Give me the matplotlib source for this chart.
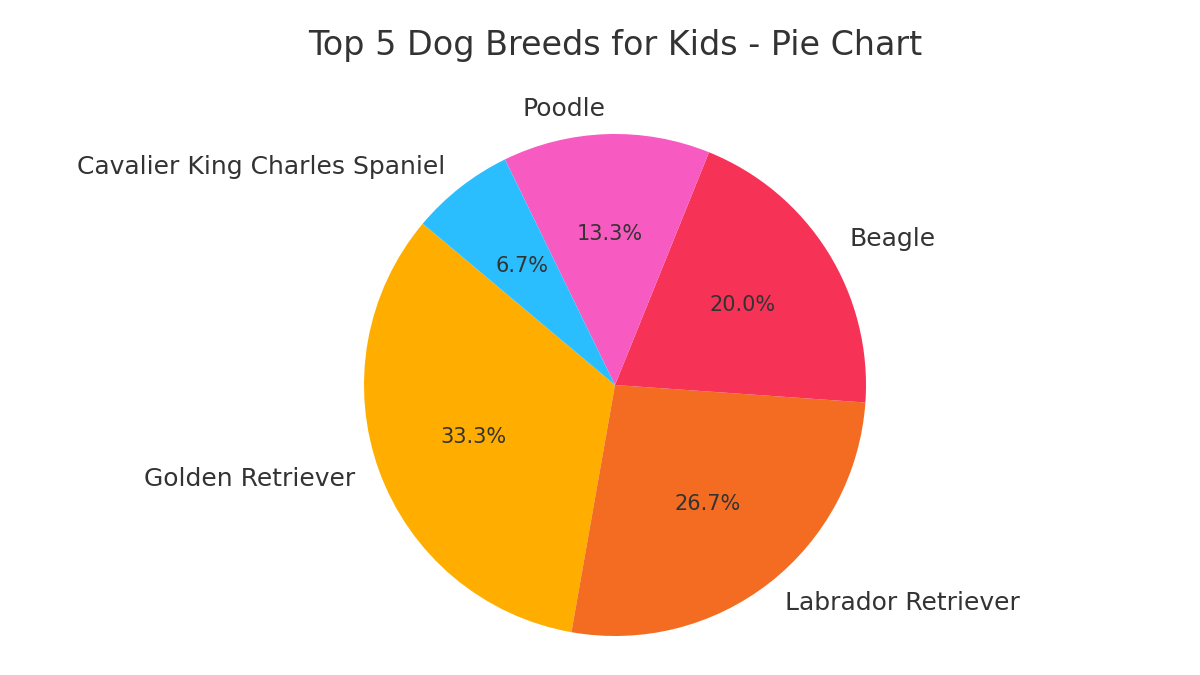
import matplotlib
matplotlib.use("Agg")
import matplotlib.pyplot as plt

breeds = ["Golden Retriever", "Labrador Retriever", "Beagle", "Poodle", "Cavalier King Charles Spaniel"]
votes = [5, 4, 3, 2, 1]
colors = ["#FFAE00", "#F36C21", "#F63257", "#F75AC0", "#2BBEFF"]

fig = plt.figure(figsize=(12, 6.75), dpi=100)
r = 251
ax = fig.add_axes([(615 - r) / 1200, (675 - 385 - r) / 675, 2 * r / 1200, 2 * r / 675])
wedges, texts, autotexts = ax.pie(votes, labels=breeds, colors=colors, startangle=140,
                                  autopct="%1.1f%%", labeldistance=1.1, pctdistance=0.6,
                                  textprops={"fontsize": 18, "color": "#333333"})
for t in autotexts:
    t.set_fontsize(15)
ax.set_xlim(-1, 1)
ax.set_ylim(-1, 1)
ax.set_aspect("equal")
fig.text(615 / 1200, 1 - 45 / 675, "Top 5 Dog Breeds for Kids - Pie Chart", ha="center", va="center",
         fontsize=24, color="#333333")
fig.savefig("out.png", dpi=100)
